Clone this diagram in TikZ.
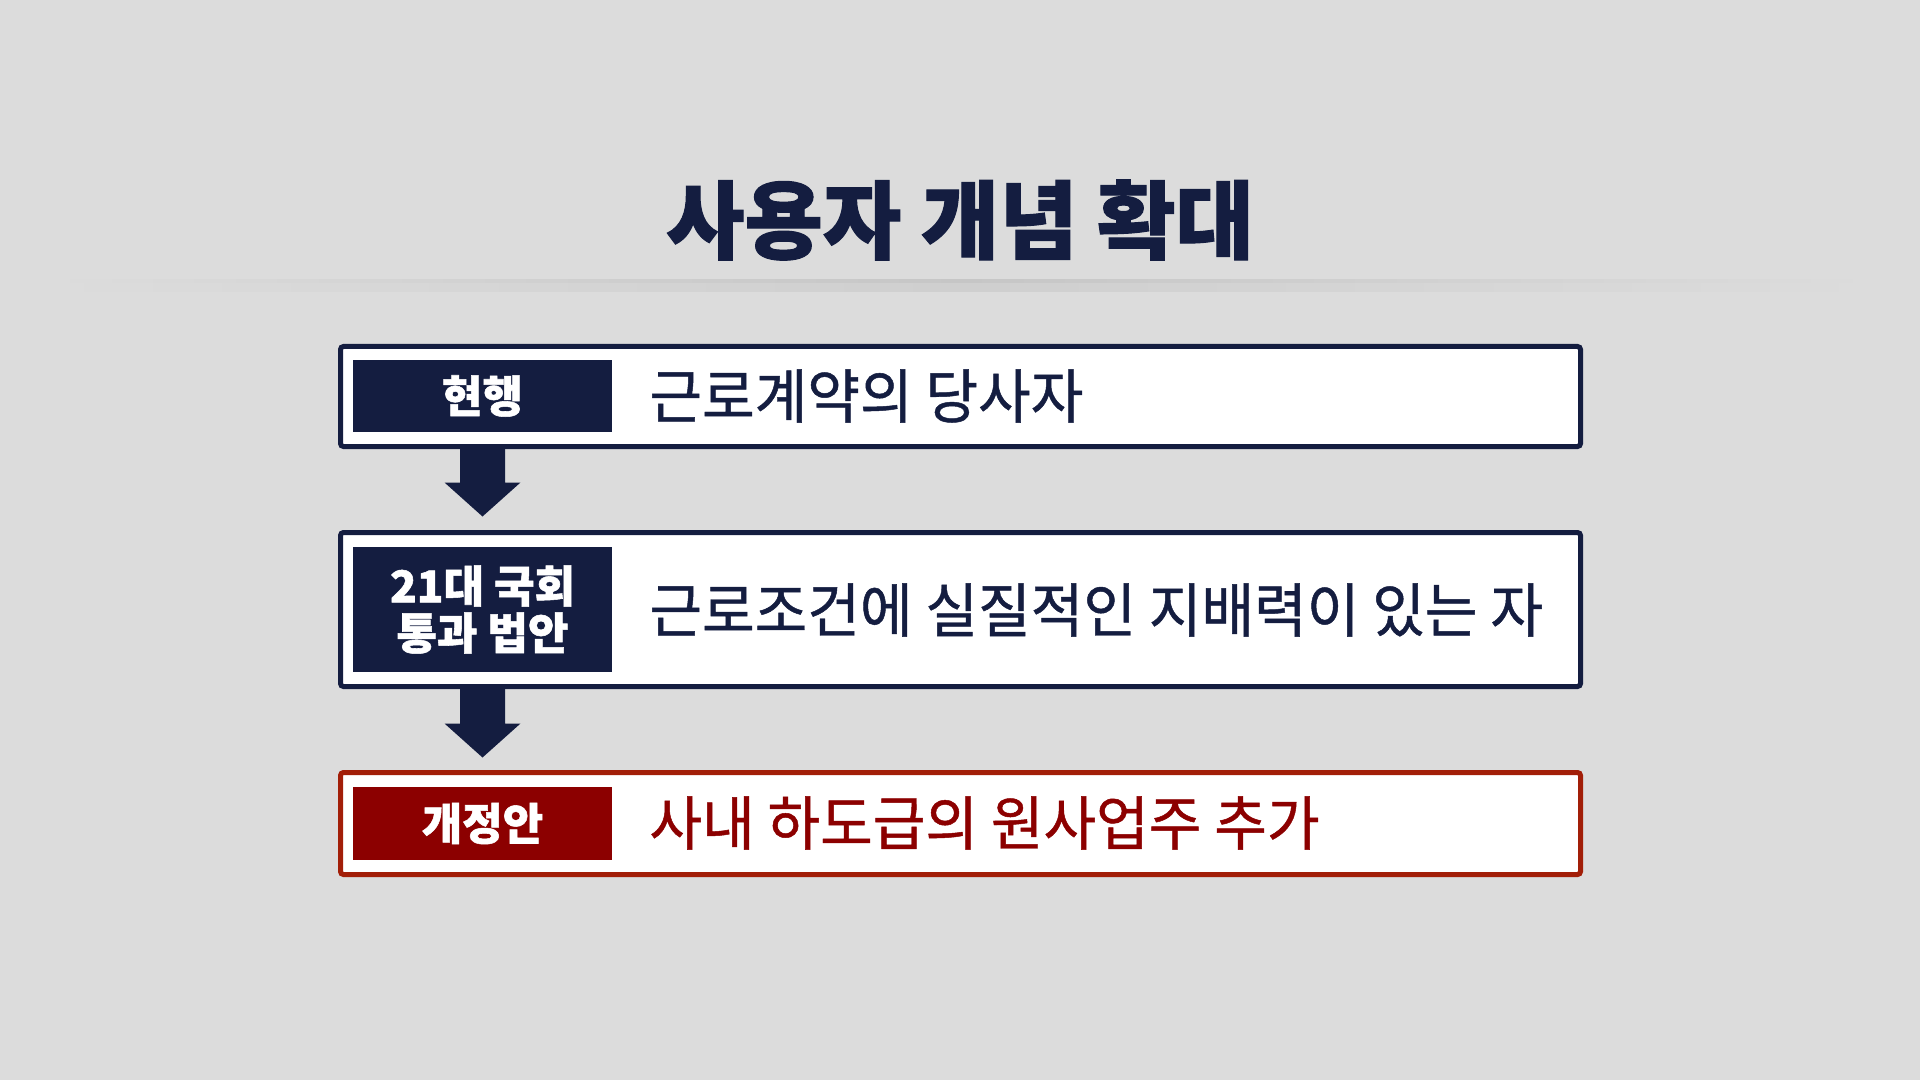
\documentclass[tikz,border=0pt]{standalone}
\usepackage{fontspec}
\newfontfamily\krm[FakeBold=0.8, FakeStretch=0.97]{Noto Sans CJK KR}
\newfontfamily\krh[FakeBold=1.2]{Noto Sans CJK KR}
\usetikzlibrary{calc}
\definecolor{bg}{HTML}{DCDCDC}
\definecolor{navy}{HTML}{141D40}
\definecolor{dred}{HTML}{8C0000}
\definecolor{rborder}{HTML}{A21E08}
\definecolor{shadowc}{HTML}{C6C6C6}
\tikzset{
  box/.style={draw=navy, line width=2.5pt, fill=white, rounded corners=1.5pt,
    minimum width=620pt, inner sep=0pt, outer sep=0pt},
  redbox/.style={box, draw=rborder},
  tag/.style={fill=navy, text=white, minimum width=129.5pt, inner sep=0pt, outer sep=0pt,
    font=\krh\bfseries\fontsize{22}{23.5}\selectfont, align=center},
  redtag/.style={tag, fill=dred},
  maintext/.style={anchor=west, inner sep=0pt, text=navy, font=\krm\fontsize{29.5}{34}\selectfont},
  flowarrow/.style={fill=navy, draw=none},
}
\begin{document}
\begin{tikzpicture}[x=0.5pt, y=-0.5pt]
  \fill[bg] (0,0) rectangle (1920,1080);
  \useasboundingbox (0,0) rectangle (1920,1080);
  % separator shadow
  \shade[left color=bg, right color=bg, middle color=shadowc] (49,280) rectangle (1873,284);
  \shade[left color=bg, right color=bg, middle color=shadowc!60!bg] (49,284) rectangle (1873,292);
  % title
  \node[text=navy, font=\krh\bfseries\fontsize{42.6}{50}\selectfont, inner sep=0pt] (title) at (960,220) {사용자 개념 확대};
  % boxes
  \node[box, minimum height=50pt] (box1) at (960.5,396.5) {};
  \node[box, minimum height=77pt] (box2) at (960.5,609.5) {};
  \node[redbox, minimum height=51pt] (box3) at (960.5,823.5) {};
  % tags
  \node[tag, minimum height=36pt] (tag1) at (482.5,396) {현행};
  \node[tag, minimum height=62.5pt] (tag2) at (482.5,609.5) {21대 국회\\통과 법안};
  \node[redtag, minimum height=36.5pt] (tag3) at (482.5,823.5) {개정안};
  % texts
  \node[maintext] (t1) at (649,396) {근로계약의 당사자};
  \node[maintext] (t2) at (649,610) {근로조건에 실질적인 지배력이 있는 자};
  \node[maintext, text=dred] (t3) at (649,823) {사내 하도급의 원사업주 추가};
  % arrows
  \coordinate (a1s) at (tag1.center |- box1.south);
  \coordinate (a1e) at (tag1.center |- box2.north);
  \fill[flowarrow] ($(a1s)+(-22.5,-2)$) -- ($(a1s)+(22.5,-2)$) -- ($(a1s)+(22.5,36)$)
     -- ($(a1s)+(38,36)$) -- ($(a1e)+(0,-16)$) -- ($(a1s)+(-38,36)$) -- ($(a1s)+(-22.5,36)$) -- cycle;
  \coordinate (a2s) at (tag2.center |- box2.south);
  \coordinate (a2e) at (tag2.center |- box3.north);
  \fill[flowarrow] ($(a2s)+(-22.5,-2)$) -- ($(a2s)+(22.5,-2)$) -- ($(a2s)+(22.5,37)$)
     -- ($(a2s)+(38,37)$) -- ($(a2e)+(0,-15)$) -- ($(a2s)+(-38,37)$) -- ($(a2s)+(-22.5,37)$) -- cycle;
\end{tikzpicture}
\end{document}
